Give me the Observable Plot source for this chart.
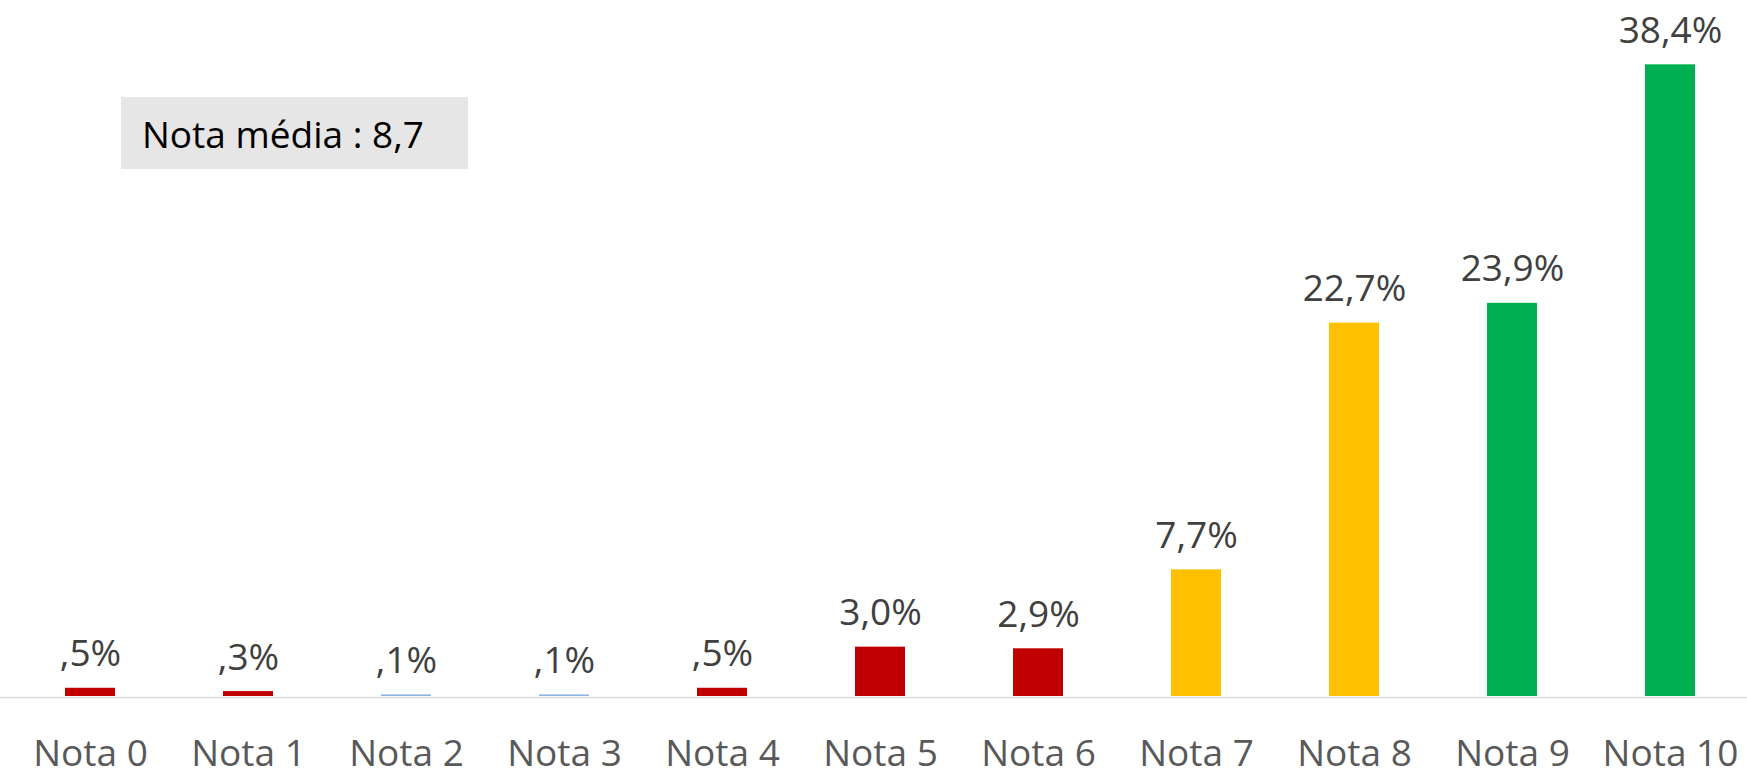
<!DOCTYPE html>
<html>
<head>
<meta charset="utf-8">
<script src="https://cdn.jsdelivr.net/npm/d3@7"></script>
<script src="https://cdn.jsdelivr.net/npm/@observablehq/plot@0.6"></script>
<style>
  html, body { margin: 0; padding: 0; background: #fff; }
  #wrap { position: relative; width: 1747px; height: 768px; overflow: hidden; }
  #note {
    position: absolute; left: 121px; top: 97px; width: 347px; height: 72px;
    background: #E7E6E6; box-sizing: border-box; padding-left: 21px;
    display: flex; align-items: center;
    font-family: "Open Sans", sans-serif; font-size: 37px; color: #000;
    white-space: nowrap;
  }
</style>
</head>
<body>
<div id="wrap">
  <div id="chart"></div>
  <div id="note">Nota média : 8,7</div>
</div>
<script>
const categories = ["Nota 0","Nota 1","Nota 2","Nota 3","Nota 4","Nota 5","Nota 6","Nota 7","Nota 8","Nota 9","Nota 10"];
const values = [0.5, 0.3, 0.1, 0.1, 0.5, 3.0, 2.9, 7.7, 22.7, 23.9, 38.4];
const colors = ["#C00000","#C00000","#8DB4E2","#8DB4E2","#C00000","#C00000","#C00000","#FFC000","#FFC000","#00B050","#00B050"];

const data = categories.map((c, i) => ({cat: c, value: values[i], color: colors[i]}));
const fmt = v => v.toFixed(1).replace(".", ",").replace(/^0/, "") + "%";

const chart = Plot.plot({
  width: 1747,
  height: 768,
  marginTop: 38,
  marginBottom: 72,
  marginLeft: 0,
  marginRight: 0,
  style: {fontFamily: "Open Sans", fontSize: "37px", background: "transparent", overflow: "visible"},
  x: {domain: categories, range: [8.8, 1751.2], paddingInner: 0.684, paddingOuter: 0.342, label: null},
  y: {domain: [0, 40], axis: null},
  color: {type: "identity"},
  marks: [
    Plot.ruleY([0], {stroke: "#D9D9D9", strokeWidth: 1.6, dy: 1}),
    Plot.barY(data, {x: "cat", y: "value", fill: "color"}),
    Plot.text(data, {x: "cat", y: "value", text: d => fmt(d.value), lineAnchor: "bottom", dy: -22, fill: "#404040", fontSize: 37}),
    Plot.axisX({tickSize: 0, tickPadding: 43, fill: "#595959", fontSize: 37, label: null})
  ]
});
document.getElementById("chart").appendChild(chart);
</script>
</body>
</html>
